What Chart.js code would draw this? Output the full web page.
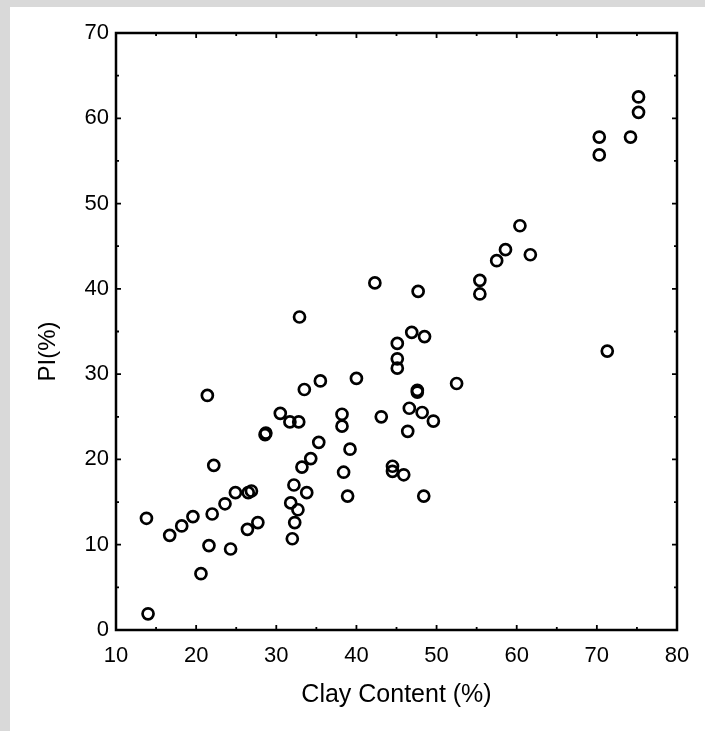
<!DOCTYPE html>
<html>
<head>
<meta charset="utf-8">
<title>PI vs Clay Content</title>
<script src="https://cdn.jsdelivr.net/npm/chart.js@4.4.0/dist/chart.umd.min.js"></script>
<style>
  body { margin: 0; background: #ffffff; }
  #chart { display: block; }
</style>
</head>
<body>
<canvas id="chart" width="705" height="731"></canvas>
<script>
// values
const clayContent = [
  13.8, 14.0, 16.7, 18.2, 19.6, 21.4, 20.6, 21.6, 22.0, 22.2,
  23.6, 24.3, 24.9, 26.5, 26.9, 26.4, 27.7, 28.6, 28.7, 30.5,
  31.7, 32.8, 32.9, 32.2, 31.8, 32.7, 32.3, 32.0, 33.2, 33.5,
  33.8, 34.3, 35.3, 35.5, 38.2, 38.2, 38.4, 38.9, 39.2, 40.0,
  42.3, 43.1, 44.5, 44.5, 45.1, 45.1, 45.1, 45.9, 46.4, 46.6,
  46.9, 47.6, 47.6, 47.7, 48.2, 48.5, 49.6, 48.4, 52.5, 55.4,
  55.4, 57.5, 58.6, 60.4, 61.7, 70.3, 70.3, 74.2, 75.2, 75.2,
  71.3
];
const plasticityIndex = [
  13.1, 1.9, 11.1, 12.2, 13.3, 27.5, 6.6, 9.9, 13.6, 19.3,
  14.8, 9.5, 16.1, 16.1, 16.3, 11.8, 12.6, 22.9, 23.1, 25.4,
  24.4, 24.4, 36.7, 17.0, 14.9, 14.1, 12.6, 10.7, 19.1, 28.2,
  16.1, 20.1, 22.0, 29.2, 25.3, 23.9, 18.5, 15.7, 21.2, 29.5,
  40.7, 25.0, 19.2, 18.6, 33.6, 31.8, 30.7, 18.2, 23.3, 26.0,
  34.9, 28.1, 27.9, 39.7, 25.5, 34.4, 24.5, 15.7, 28.9, 41.0,
  39.4, 43.3, 44.6, 47.4, 44.0, 57.8, 55.7, 57.8, 62.5, 60.7,
  32.7
];
const xRange = [10, 80];
const yRange = [0, 70];

const points = clayContent.map((x, i) => ({ x: x, y: plasticityIndex[i] }));

// gray scan border on the top and left edge
const pageBackground = {
  id: 'pageBackground',
  beforeDraw(chart) {
    const ctx = chart.ctx;
    ctx.save();
    ctx.fillStyle = '#d9d9d9';
    ctx.fillRect(0, 0, chart.width, chart.height);
    ctx.fillStyle = '#ffffff';
    ctx.fillRect(10, 7, chart.width - 10, chart.height - 7);
    ctx.restore();
  }
};

// box around the plot with inward ticks on all four sides
const frameTicks = {
  id: 'frameTicks',
  afterDatasetsDraw(chart) {
    const ctx = chart.ctx;
    const a = chart.chartArea;
    const xs = chart.scales.x;
    const ys = chart.scales.y;
    ctx.save();
    ctx.strokeStyle = '#000';
    ctx.lineWidth = 2.5;
    ctx.strokeRect(a.left, a.top, a.right - a.left, a.bottom - a.top);
    ctx.lineWidth = 1.8;
    ctx.beginPath();
    for (let v = xRange[0] + 5; v < xRange[1]; v += 5) {
      const len = v % 10 === 0 ? 5 : 3;
      const px = xs.getPixelForValue(v);
      ctx.moveTo(px, a.bottom); ctx.lineTo(px, a.bottom - len);
      ctx.moveTo(px, a.top); ctx.lineTo(px, a.top + len);
    }
    for (let v = yRange[0] + 5; v < yRange[1]; v += 5) {
      const len = v % 10 === 0 ? 5 : 3;
      const py = ys.getPixelForValue(v);
      ctx.moveTo(a.left, py); ctx.lineTo(a.left + len, py);
      ctx.moveTo(a.right, py); ctx.lineTo(a.right - len, py);
    }
    ctx.stroke();
    ctx.restore();
  }
};

const ctx = document.getElementById('chart').getContext('2d');
const chart = new Chart(ctx, {
  type: 'scatter',
  data: {
    datasets: [{
      label: 'PI',
      data: points,
      pointStyle: 'circle',
      pointRadius: 5.5,
      pointHoverRadius: 5.5,
      borderWidth: 2.7,
      borderColor: '#000',
      backgroundColor: 'rgba(255,255,255,0)'
    }]
  },
  options: {
    responsive: false,
    animation: false,
    layout: { padding: { top: 33, right: 28, left: 0, bottom: 0 } },
    plugins: {
      legend: { display: false },
      tooltip: { enabled: false }
    },
    scales: {
      x: {
        type: 'linear',
        min: xRange[0],
        max: xRange[1],
        grid: { display: false, drawTicks: false },
        border: { display: false },
        ticks: {
          stepSize: 10,
          padding: 13,
          color: '#000',
          font: { family: 'Liberation Sans, Arial, sans-serif', size: 22 }
        },
        title: {
          display: true,
          text: 'Clay Content (%)',
          color: '#000',
          font: { family: 'Liberation Sans, Arial, sans-serif', size: 25 },
          padding: { top: 0, bottom: 21 }
        },
        afterFit: (scale) => { scale.height = 101; }
      },
      y: {
        type: 'linear',
        min: yRange[0],
        max: yRange[1],
        grid: { display: false, drawTicks: false },
        border: { display: false },
        ticks: {
          stepSize: 10,
          padding: 7,
          color: '#000',
          font: { family: 'Liberation Sans, Arial, sans-serif', size: 22 }
        },
        title: {
          display: true,
          text: 'PI(%)      ',
          color: '#000',
          font: { family: 'Liberation Sans, Arial, sans-serif', size: 24 },
          padding: { top: 34, bottom: 0 }
        },
        afterFit: (scale) => { scale.width = 116; }
      }
    }
  },
  plugins: [pageBackground, frameTicks]
});
</script>
</body>
</html>
